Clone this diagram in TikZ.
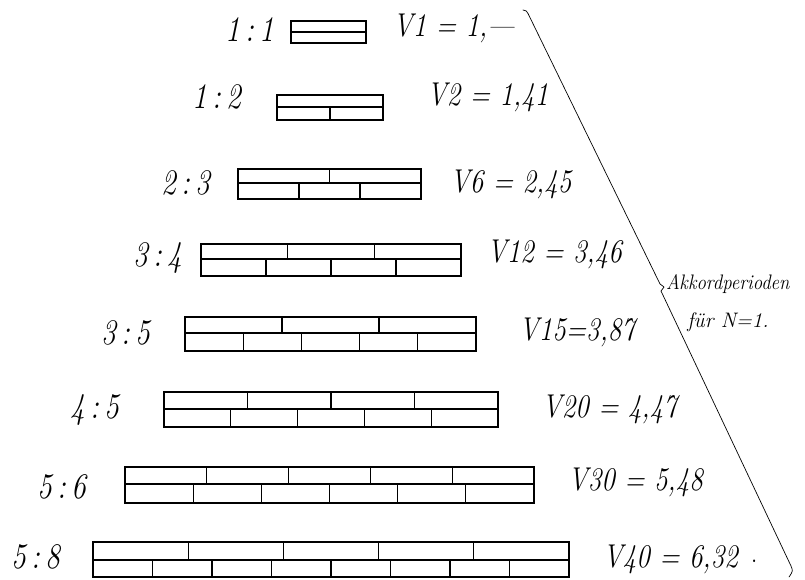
\documentclass[tikz,border=0pt]{standalone}
\usepackage{fontspec}
\tikzset{
  brickline/.style={line width=1.1pt, line cap=rect},
  ratiotext/.style={anchor=center, inner sep=0pt, font=\fontsize{36}{38}\selectfont\itshape},
  roottext/.style={anchor=west, inner sep=0pt, font=\fontsize{33}{35}\selectfont\itshape},
  labeltext/.style={inner sep=0pt, font=\fontsize{21}{23}\selectfont\itshape},
  bracketline/.style={line width=0.7pt, line join=round, line cap=round}
}
\newcommand\narrow[1]{\scalebox{0.82}[1]{#1}}
% #1 x-left, #2 x-right, #3 y-top, #4 y-mid, #5 y-bottom, #6 bricks top, #7 bricks bottom
\newcommand\brickrow[7]{%
  \draw[brickline] (#1,#3) rectangle (#2,#5);
  \draw[brickline] (#1,#4) -- (#2,#4);
  \ifnum#6>1
    \pgfmathtruncatemacro\ntopm{#6-1}
    \foreach \k in {1,...,\ntopm}{\draw[brickline] ({#1+(#2-#1)*\k/#6},#3) -- ({#1+(#2-#1)*\k/#6},#4);}
  \fi
  \ifnum#7>1
    \pgfmathtruncatemacro\nbotm{#7-1}
    \foreach \k in {1,...,\nbotm}{\draw[brickline] ({#1+(#2-#1)*\k/#7},#4) -- ({#1+(#2-#1)*\k/#7},#5);}
  \fi
}
\begin{document}
\begin{tikzpicture}[x=1pt, y=-1pt]
\useasboundingbox[fill=white] (0,0) rectangle (805,579);

% brick rectangles
\brickrow{291}{366}{21}{32}{43}{1}{1}
\brickrow{277}{383}{95}{107}{120}{1}{2}
\brickrow{238}{421}{169}{183}{199}{2}{3}
\brickrow{201}{461}{244}{259}{276}{3}{4}
\brickrow{185}{476}{317}{333}{351}{3}{5}
\brickrow{164}{498}{392}{409}{427}{4}{5}
\brickrow{125}{534}{467}{484}{503}{5}{6}
\brickrow{93}{569}{542}{560}{577}{5}{8}

% ratio labels
\node[ratiotext] (q1) at (250,30) {\narrow{1\,:\,1}};
\node[ratiotext] (q2) at (217,97) {\narrow{1\,:\,2}};
\node[ratiotext] (q3) at (186,183) {\narrow{2\,:\,3}};
\node[ratiotext] (q4) at (158,258) {\narrow{3\,:\,4}};
\node[ratiotext] (q5) at (126,333) {\narrow{3\,:\,5}};
\node[ratiotext] (q6) at (95,410) {\narrow{4\,:\,5}};
\node[ratiotext] (q7) at (62,487) {\narrow{5\,:\,6}};
\node[ratiotext] (q8) at (36,557) {\narrow{5\,:\,8}};

% root values
\node[roottext] (v1) at (393,28) {\narrow{V1 = 1,---}};
\node[roottext] (v2) at (427,97) {\narrow{V2 = 1,41}};
\node[roottext] (v3) at (450,184) {\narrow{V6 = 2,45}};
\node[roottext] (v4) at (487,254) {\narrow{V12 = 3,46}};
\node[roottext] (v5) at (519,332) {\narrow{V15=3,87}};
\node[roottext] (v6) at (542,409) {\narrow{V20 = 4,47}};
\node[roottext] (v7) at (568,482) {\narrow{V30 = 5,48}};
\node[roottext] (v8) at (603,559) {\narrow{V40 = 6,32\enspace$\cdot$}};

% bracket line
\coordinate (btop) at (523,10);
\coordinate (bup) at (528,13.5);
\coordinate (tipa) at (660,284);
\coordinate (tip) at (664,287);
\coordinate (tipb) at (661,291);
\coordinate (blow) at (791,566);
\coordinate (bend) at (789,577);
\draw[bracketline] (btop) .. controls (526,10.5) .. (bup) -- (tipa) -- (tip) -- (tipb) -- (blow) .. controls (793,571) .. (bend);

% bracket label
\node[labeltext, anchor=west] (lab1) at (666,284) {\scalebox{0.9}[1]{Akkordperioden}};
\node[labeltext] (lab2) at (728,322) {für N=1.};
\end{tikzpicture}
\end{document}
